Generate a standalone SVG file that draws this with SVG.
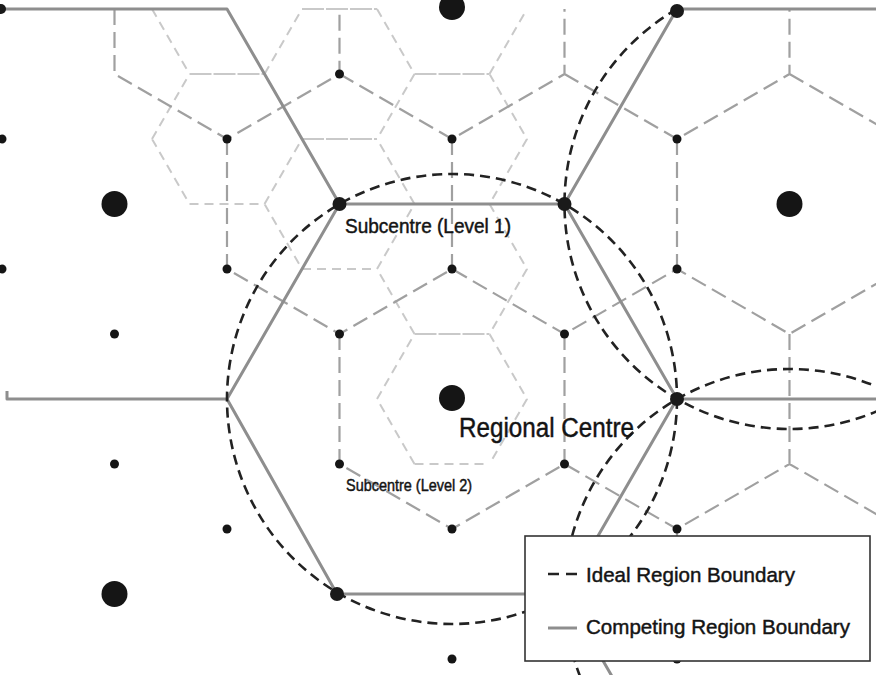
<svg xmlns="http://www.w3.org/2000/svg" width="876" height="675" viewBox="0 0 876 675">
<style>
.l2{stroke:#c9c9c9;stroke-width:2;stroke-dasharray:9 6;fill:none}
.l2h{stroke:#c9c9c9;stroke-width:1.8;stroke-dasharray:22 2;fill:none}
.l1{stroke:#a0a0a0;stroke-width:2.2;stroke-dasharray:16 7;fill:none}
.comp{stroke:#8e8e8e;stroke-width:3;fill:none;stroke-linejoin:round}
.ideal{stroke:#222;stroke-width:2.6;stroke-dasharray:10 6;fill:none}
.big{fill:#151515}
.sub1{fill:#1a1a1a}
.sub2{fill:#151515}
.lbl{font-family:"Liberation Sans",Arial,sans-serif;fill:#141414;stroke:#141414;stroke-width:0.45}
</style>
<rect width="876" height="675" fill="#fff"/>
<g id="connectors">
<g id="level2-areas">
<path class="l2" d="M152,9 L189.5,74 M152,139 L189.5,74 M264.5,74 L302,9 M264.5,74 L302,139 M377,9 L414.5,74 L377,139 M489.5,74 L527,9 M489.5,74 L527,139 L489.5,204 M414.5,204 L377,139 M152,139 L189.5,204 M264.5,204 L302,139 M264.5,204 L302,269 M377,269 L414.5,204 M489.5,204 L527,269 L489.5,334 M414.5,334 L377,269 M377,399 L414.5,334 M489.5,334 L527,399 L489.5,464 M414.5,464 L377,399"/>
<path class="l2h" d="M189.5,74 H264.5 M302,9 H377 M302,139 H377 M414.5,74 H489.5 M414.5,334 H489.5"/>
<path class="l2" d="M189.5,204 H264.5 M302,269 H377 M414.5,464 H489.5 M414.5,204 H489.5"/>
</g>
<g id="level1-areas">
<path class="l1" d="M114.5,9 V74 L227,139 L339.5,74 V9 M339.5,74 L452,139 L564.5,74 V9 M564.5,74 L677,139 L789.5,74 V9 M789.5,74 L902,139 M227,139 V269 L339.5,334 L452,269 L564.5,334 L677,269 L789.5,334 L902,269 M452,139 V269 M677,139 V269 M339.5,334 V464 L452,529 L564.5,464 L677,529 L789.5,464 L902,529 M564.5,334 V464 M789.5,334 V464 M677,529 V659"/>
</g>
<g id="competing-boundary">
<path class="comp" d="M5,9 H227 L339.5,204 H564.5 L677,9 H876"/>
<path class="comp" d="M339.5,204 L227,399 L337,594 H564.5"/>
<path class="comp" d="M7,391 V399 H227"/>
<path class="comp" d="M564.5,204 L677,399 H876"/>
<path class="comp" d="M677,399 L564.5,594 L677,789"/>
</g>
<g id="ideal-boundary">
<circle class="ideal" cx="452" cy="399" r="225"/>
<path class="ideal" d="M677,9 A225,225 0 0 0 564.5,204 A225,225 0 0 0 789.5,429 A225,225 0 0 0 900,400"/>
<path class="ideal" d="M900,398 A225,225 0 0 0 789.5,369 A225,225 0 0 0 564.5,594 A225,225 0 0 0 677,789"/>
</g>
</g>
<g id="level2-centres" class="sub2">
<circle cx="339.5" cy="74" r="4.5"/>
<circle cx="227" cy="139" r="4.5"/>
<circle cx="452" cy="139" r="4.5"/>
<circle cx="677" cy="139" r="4.5"/>
<circle cx="2" cy="139" r="4.5"/>
<circle cx="227" cy="269" r="4.5"/>
<circle cx="452" cy="269" r="4.5"/>
<circle cx="677" cy="269" r="4.5"/>
<circle cx="2" cy="269" r="4.5"/>
<circle cx="114.5" cy="334" r="4.5"/>
<circle cx="339.5" cy="334" r="4.5"/>
<circle cx="564.5" cy="334" r="4.5"/>
<circle cx="114.5" cy="464" r="4.5"/>
<circle cx="564.5" cy="464" r="4.5"/>
<circle cx="227" cy="529" r="4.5"/>
<circle cx="452" cy="529" r="4.5"/>
<circle cx="677" cy="529" r="4.5"/>
<circle cx="452" cy="659" r="4.5"/>
<circle cx="677" cy="659" r="4.5"/>
</g>
<g id="level1-centres" class="sub1">
<circle cx="564.5" cy="204" r="7"/>
<circle cx="677" cy="11" r="7"/>
<circle cx="677" cy="399" r="7"/>
<circle cx="337" cy="594" r="7"/>
<circle cx="564.5" cy="594" r="7"/>
<circle cx="1" cy="9" r="5"/>
</g>
<g id="regional-centres" class="big">
<circle cx="114.5" cy="204" r="13"/>
<circle cx="789.5" cy="204" r="13"/>
<circle cx="114.5" cy="594" r="13"/>
<circle cx="789.5" cy="594" r="13"/>
<circle cx="452" cy="7" r="13"/>
</g>
<g id="subcentre-level1">
<circle class="sub1" cx="339.5" cy="204" r="7"/>
<text class="lbl" x="345" y="233" font-size="20" textLength="166" lengthAdjust="spacingAndGlyphs">Subcentre (Level 1)</text>
</g>
<g id="regional-centre">
<circle class="big" cx="452" cy="398" r="13"/>
<text class="lbl" x="459" y="437" font-size="27" textLength="175" lengthAdjust="spacingAndGlyphs">Regional Centre</text>
</g>
<g id="subcentre-level2">
<circle class="sub2" cx="339.5" cy="464" r="4.5"/>
<text class="lbl" x="346" y="491" font-size="16.5" textLength="126" lengthAdjust="spacingAndGlyphs">Subcentre (Level 2)</text>
</g>
<g id="legend">
<rect x="525" y="536" width="345" height="125" fill="#fff" stroke="#333" stroke-width="1.6"/>
<line x1="548" y1="574" x2="577" y2="574" stroke="#222" stroke-width="2.6" stroke-dasharray="11 7"/>
<text class="lbl" x="586" y="582" font-size="20.5" textLength="209" lengthAdjust="spacingAndGlyphs">Ideal Region Boundary</text>
<line x1="548" y1="628" x2="577" y2="628" stroke="#8e8e8e" stroke-width="3"/>
<text class="lbl" x="586" y="634" font-size="20.5" textLength="264" lengthAdjust="spacingAndGlyphs">Competing Region Boundary</text>
</g>
</svg>
